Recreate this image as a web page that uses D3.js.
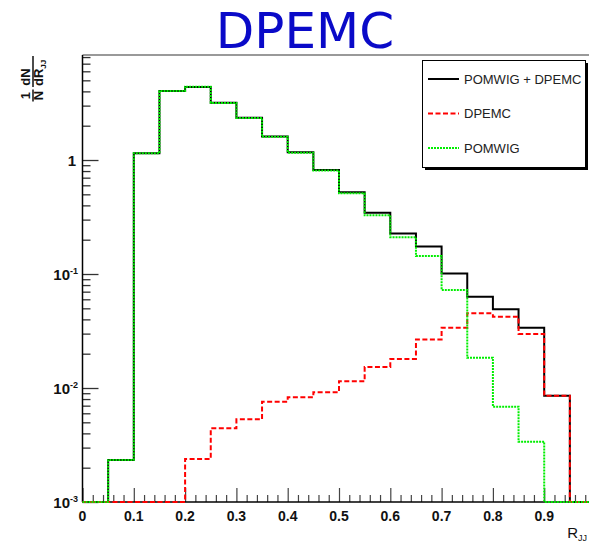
<!DOCTYPE html>
<html>
<head>
<meta charset="utf-8">
<script src="https://cdn.jsdelivr.net/npm/d3@7/dist/d3.min.js"></script>
<style>
  html, body { margin: 0; padding: 0; background: #fff; }
  svg { display: block; }
  text { font-family: "Liberation Sans", Arial, sans-serif; }
</style>
</head>
<body>
<svg id="chart" width="589" height="543"></svg>
<script>
// Bin lower edges of R_JJ (bin width 0.05)
const binEdges = [0.00, 0.05, 0.10, 0.15, 0.20, 0.25, 0.30, 0.35, 0.40, 0.45,
                  0.50, 0.55, 0.60, 0.65, 0.70, 0.75, 0.80, 0.85, 0.90, 0.95];
const binWidth = 0.05;

// 1/N dN/dR_JJ per bin
const totalValues = [0, 0.00234, 1.145, 4.03, 4.38, 3.18, 2.35, 1.61, 1.17, 0.817,
                     0.521, 0.345, 0.227, 0.174, 0.101, 0.0632, 0.049, 0.0338, 0.00857, 0];
const dpemcValues = [0, 0, 0, 0, 0.00238, 0.00443, 0.00531, 0.00759, 0.00828, 0.0092,
                     0.01145, 0.0153, 0.0180, 0.0267, 0.0338, 0.0452, 0.0422, 0.0298, 0.00857, 0];
const pomwigValues = [0, 0.00234, 1.145, 4.03, 4.40, 3.17, 2.34, 1.60, 1.16, 0.808,
                      0.51, 0.327, 0.210, 0.144, 0.0724, 0.0184, 0.00686, 0.00338, 0, 0];

const legendLabels = ["POMWIG + DPEMC", "DPEMC", "POMWIG"];
const xTickValues = [0, 0.1, 0.2, 0.3, 0.4, 0.5, 0.6, 0.7, 0.8, 0.9];
const yTickValues = [0.001, 0.01, 0.1, 1];
const yTickLabels = [["10", "-3"], ["10", "-2"], ["10", "-1"], ["1", ""]];

const svg = d3.select("#chart");

const plotLeft = 82.5, plotRight = 595.5, plotTop = 55, plotBottom = 502;
const yMin = 1e-3, yMax = 8.34;

const x = d3.scaleLinear().domain([0, 1]).range([plotLeft, plotRight]);
const y = d3.scaleLog().domain([yMin, yMax]).range([plotBottom, plotTop]);

// Title
svg.append("text")
  .attr("x", 305).attr("y", 48)
  .attr("text-anchor", "middle")
  .style("font-family", "'DejaVu Sans', sans-serif")
  .style("font-size", "50px")
  .attr("fill", "#0a0ac8")
  .text("DPEMC");

// Frame top edge
svg.append("line")
  .attr("x1", plotLeft).attr("x2", 589).attr("y1", plotTop).attr("y2", plotTop)
  .attr("stroke", "#777").attr("stroke-width", 1.5);

// Y axis: major and minor ticks pointing inward
const yMinor = [];
[0.001, 0.01, 0.1, 1].forEach(d => {
  for (let k = 2; k <= 9; k++) {
    const v = d * k;
    if (v <= yMax) yMinor.push(v);
  }
});
const yAxisMinor = svg.append("g").attr("transform", `translate(${plotLeft},0)`)
  .call(d3.axisLeft(y).tickValues(yMinor).tickSize(-8).tickFormat(""));
const yAxisMajor = svg.append("g").attr("transform", `translate(${plotLeft},0)`)
  .call(d3.axisLeft(y).tickValues(yTickValues).tickSize(-16).tickFormat(""));
[yAxisMinor, yAxisMajor].forEach(g => {
  g.select(".domain").remove();
  g.selectAll("line").attr("stroke", "#333").attr("stroke-width", 1.3);
});

// X axis ticks
const xMinor = d3.range(0, 51).map(i => i * 0.02).filter((v, i) => i % 5 !== 0);
const xAxisMinor = svg.append("g").attr("transform", `translate(0,${plotBottom})`)
  .call(d3.axisBottom(x).tickValues(xMinor).tickSize(-7).tickFormat(""));
const xAxisMajor = svg.append("g").attr("transform", `translate(0,${plotBottom})`)
  .call(d3.axisBottom(x).tickValues(d3.range(0, 11).map(i => i / 10)).tickSize(-14).tickFormat(""));
[xAxisMinor, xAxisMajor].forEach(g => {
  g.select(".domain").remove();
  g.selectAll("line").attr("stroke", "#444").attr("stroke-width", 1.2);
});

// Axis lines
svg.append("line").attr("x1", plotLeft).attr("x2", plotLeft).attr("y1", plotTop).attr("y2", plotBottom)
  .attr("stroke", "#000").attr("stroke-width", 1.5);
svg.append("line").attr("x1", plotLeft).attr("x2", plotRight).attr("y1", plotBottom).attr("y2", plotBottom)
  .attr("stroke", "#000").attr("stroke-width", 1.5);

// X tick labels
svg.append("g").selectAll("text").data(xTickValues).join("text")
  .attr("x", d => x(d)).attr("y", 521)
  .attr("text-anchor", "middle")
  .style("font-size", "14px").style("font-weight", "bold")
  .attr("fill", "#111")
  .text(d => d === 0 ? "0" : d3.format(".1f")(d));

// Y tick labels with exponent superscripts
const yLab = svg.append("g").selectAll("text").data(yTickValues).join("text")
  .attr("x", (d, i) => yTickLabels[i][1] ? 78 : 76)
  .attr("y", d => y(d) + 5.5)
  .attr("text-anchor", "end")
  .style("font-size", "15px").style("font-weight", "bold")
  .attr("fill", "#111");
yLab.each(function(d, i) {
  const t = d3.select(this);
  t.append("tspan").text(yTickLabels[i][0]);
  if (yTickLabels[i][1]) {
    t.append("tspan").attr("dy", -6).style("font-size", "9px").text(yTickLabels[i][1]);
  }
});

// X axis title R_JJ
const xTitle = svg.append("text")
  .attr("x", 587).attr("y", 538)
  .attr("text-anchor", "end")
  .style("font-size", "15px")
  .attr("fill", "#111");
xTitle.append("tspan").text("R");
xTitle.append("tspan").attr("dy", 3).style("font-size", "9px").text("JJ");

// Y axis title: (1/N)(dN/dR_JJ), rotated
const yt = svg.append("g").attr("transform", "translate(33,102) rotate(-90)");
const fracStyle = sel => sel.style("font-size", "13px").style("font-weight", "bold").attr("fill", "#111");
yt.append("text").attr("x", 6.5).attr("y", -3).attr("text-anchor", "middle").call(fracStyle).text("1");
yt.append("text").attr("x", 6.5).attr("y", 10).attr("text-anchor", "middle").call(fracStyle).text("N");
yt.append("line").attr("x1", 0.5).attr("x2", 12.5).attr("y1", 0).attr("y2", 0)
  .attr("stroke", "#111").attr("stroke-width", 1.5);
yt.append("text").attr("x", 25).attr("y", -3).attr("text-anchor", "middle").call(fracStyle).text("dN");
const dr = yt.append("text").attr("x", 16).attr("y", 10).call(fracStyle);
dr.append("tspan").text("dR");
dr.append("tspan").attr("dy", 3).style("font-size", "8px").text("JJ");
yt.append("line").attr("x1", 15).attr("x2", 46).attr("y1", 0).attr("y2", 0)
  .attr("stroke", "#111").attr("stroke-width", 1.5);

// Histogram step lines; empty bins sit on the axis minimum
function histPoints(values) {
  const pts = binEdges.map((e, i) => [e, Math.max(values[i], yMin)]);
  pts.push([binEdges[binEdges.length - 1] + binWidth, Math.max(values[values.length - 1], yMin)]);
  return pts;
}
const step = d3.line().x(d => x(d[0])).y(d => y(d[1])).curve(d3.curveStepAfter);

const series = [
  { values: totalValues, color: "#000", width: 2, dash: null },
  { values: dpemcValues, color: "#ff0000", width: 2, dash: "5,2.5" },
  { values: pomwigValues, color: "#00ee00", width: 2, dash: "2,1" }
];
svg.append("g").selectAll("path").data(series).join("path")
  .attr("d", d => step(histPoints(d.values)))
  .attr("fill", "none")
  .attr("stroke", d => d.color)
  .attr("stroke-width", d => d.width)
  .attr("stroke-dasharray", d => d.dash);

// Legend
const lg = svg.append("g");
lg.append("rect").attr("x", 425).attr("y", 63).attr("width", 163).attr("height", 107).attr("fill", "#000");
lg.append("rect").attr("x", 422.5).attr("y", 60.5).attr("width", 163).attr("height", 107)
  .attr("fill", "#fff").attr("stroke", "#000").attr("stroke-width", 1);
const rowY = [79, 113.5, 148];
series.forEach((s, i) => {
  lg.append("line").attr("x1", 428).attr("x2", 459).attr("y1", rowY[i]).attr("y2", rowY[i])
    .attr("stroke", s.color).attr("stroke-width", s.width).attr("stroke-dasharray", s.dash);
  lg.append("text").attr("x", 464).attr("y", rowY[i] + 4.5)
    .style("font-size", "13px").attr("fill", "#222").text(legendLabels[i]);
});
</script>
</body>
</html>
